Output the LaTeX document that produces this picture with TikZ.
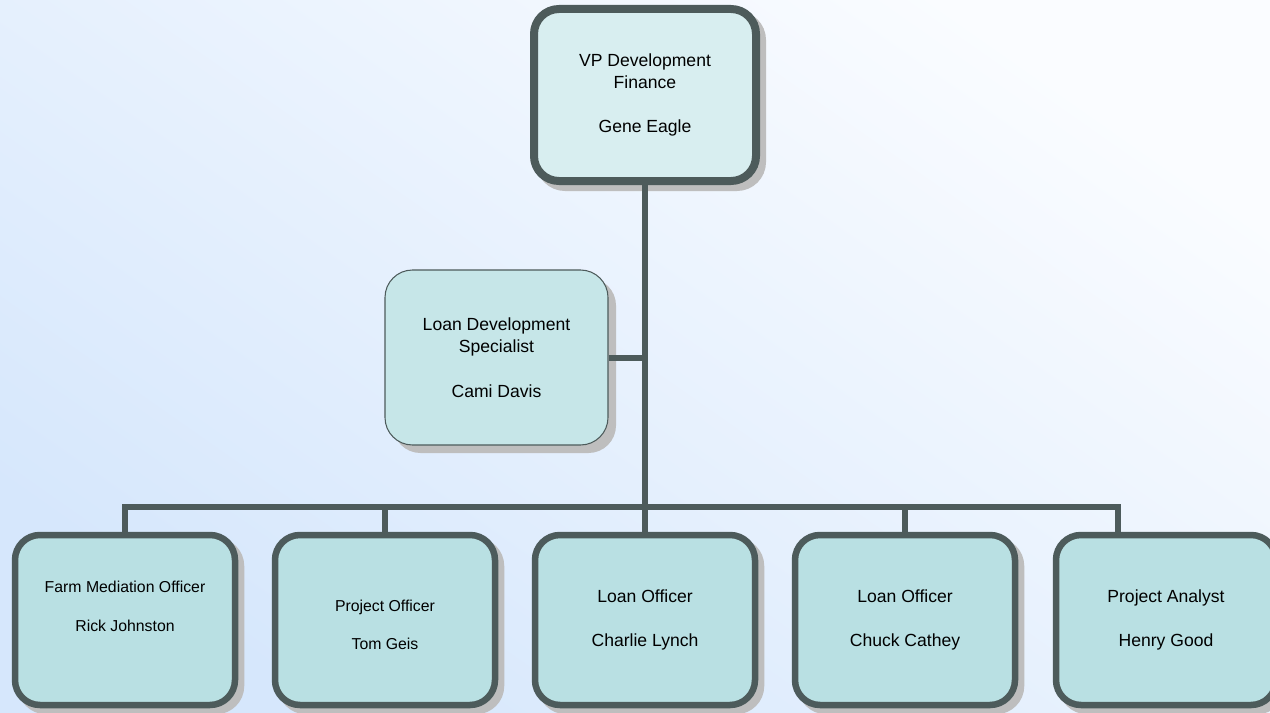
\documentclass[tikz,border=0pt]{standalone}
\usepackage{fontspec}
\setmainfont{Liberation Sans}
\usepackage{tikz}
\usetikzlibrary{shadows}
\definecolor{edge}{RGB}{77,91,91}
\definecolor{topfill}{RGB}{216,238,240}
\definecolor{midfill}{RGB}{198,230,232}
\definecolor{botfill}{RGB}{185,224,227}
\definecolor{shadowgray}{RGB}{190,190,190}
\definecolor{bgblue}{RGB}{214,231,252}
\definecolor{bgwhite}{RGB}{250,252,255}

\tikzset{
  boss/.style={draw=edge, fill=topfill, line width=0.16cm, rounded corners=0.5cm,
    minimum width=4.44cm, minimum height=3.44cm, align=center,
    font=\fontsize{10}{12.5}\selectfont,
    drop shadow={shadow xshift=0.12cm, shadow yshift=-0.12cm, fill=shadowgray,
      draw=shadowgray, line width=0.16cm, opacity=1}},
  staff/.style={draw=edge, fill=midfill, line width=0.6pt, rounded corners=0.55cm,
    minimum width=4.46cm, minimum height=3.5cm, align=center,
    font=\fontsize{10}{12.5}\selectfont,
    drop shadow={shadow xshift=0.16cm, shadow yshift=-0.16cm, fill=shadowgray, opacity=1}},
  officer/.style={draw=edge, fill=botfill, line width=0.13cm, rounded corners=0.5cm,
    minimum width=4.4cm, minimum height=3.4cm, align=center,
    font=\fontsize{10}{12.5}\selectfont,
    drop shadow={shadow xshift=0.12cm, shadow yshift=-0.12cm, fill=shadowgray,
      draw=shadowgray, line width=0.13cm, opacity=1}},
  small/.style={font=\fontsize{9}{11}\selectfont},
  conn/.style={draw=edge, line width=0.12cm}
}

\begin{document}
\begin{tikzpicture}
\useasboundingbox (0,0) rectangle (25.4,-14.26);
\clip (0,0) rectangle (25.4,-14.26);
\shade[top color=bgwhite, bottom color=bgblue, shading angle=-35] (0,0) rectangle (25.4,-14.26);

% top of the chart
\node[boss] (vp) at (12.9,-1.9) {VP Development\\Finance\\[13pt]Gene Eagle};
\node[staff] (lds) at (9.93,-7.15) {Loan Development\\Specialist\\[13pt]Cami Davis};

% bottom row
\node[officer,small] (fmo) at (2.5,-12.4) {Farm Mediation Officer\\[11pt]Rick Johnston\\[5pt]\mbox{}};
\node[officer,small] (po) at (7.7,-12.4) {\mbox{}\\[1pt]Project Officer\\[11pt]Tom Geis};
\node[officer] (lo1) at (12.9,-12.4) {Loan Officer\\[13pt]Charlie Lynch};
\node[officer] (lo2) at (18.1,-12.4) {Loan Officer\\[13pt]Chuck Cathey};
\node[officer] (pa) at (23.32,-12.4) {Project Analyst\\[13pt]Henry Good};

\coordinate (bus) at (12.9,-10.14);
\coordinate (pajoin) at (22.36,-10.14);

\draw[conn] (vp.south) -- (bus);
\draw[conn] (lds.east) -- (lds.east -| bus);
\draw[conn] (fmo.north) |- (pajoin) -- (pajoin |- pa.north);
\draw[conn] (po.north) -- (po.north |- bus);
\draw[conn] (lo1.north) -- (bus);
\draw[conn] (lo2.north) -- (lo2.north |- bus);
\end{tikzpicture}
\end{document}
